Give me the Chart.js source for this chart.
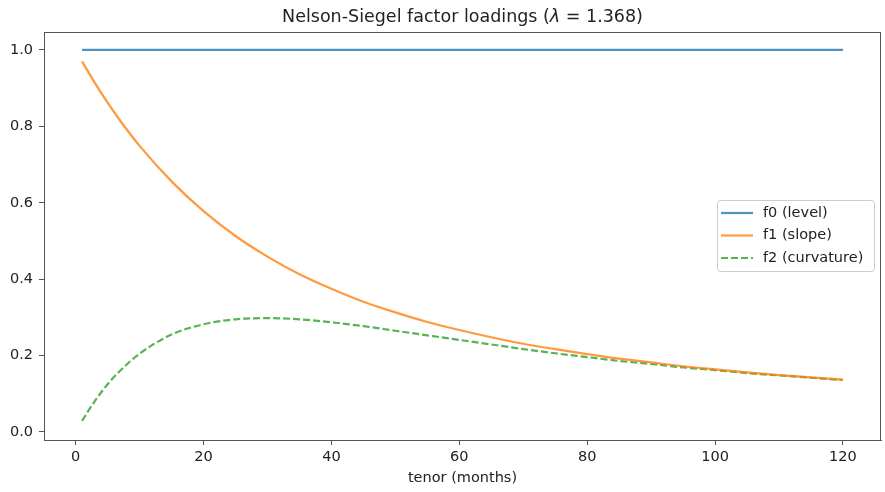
<!DOCTYPE html>
<html>
<head>
<meta charset="utf-8">
<script src="https://cdn.jsdelivr.net/npm/chart.js@4.4.0/dist/chart.umd.min.js"></script>
<style>
  html, body { margin: 0; padding: 0; background: #fff; }
  #wrap { width: 885px; height: 492px; }
</style>
</head>
<body>
<div id="wrap"><canvas id="chart" width="885" height="492"></canvas></div>
<script>
// tenors (months) and loadings
const tenors = [1, 3, 5, 7, 10, 15, 20, 25, 30, 35, 40, 45, 50, 55, 60, 65, 70, 75, 80, 85, 90, 95, 100, 105, 110, 115, 120]
const level = [1, 1, 1, 1, 1, 1, 1, 1, 1, 1, 1, 1, 1, 1, 1, 1, 1, 1, 1, 1, 1, 1, 1, 1, 1, 1, 1]
const slope = [0.970, 0.914, 0.862, 0.814, 0.749, 0.656, 0.578, 0.513, 0.459, 0.413, 0.375, 0.341, 0.313, 0.288, 0.267, 0.248, 0.231, 0.217, 0.204, 0.192, 0.182, 0.172, 0.164, 0.156, 0.149, 0.143, 0.137]
const curvature = [0.029, 0.081, 0.125, 0.161, 0.205, 0.255, 0.282, 0.295, 0.298, 0.295, 0.287, 0.277, 0.265, 0.253, 0.241, 0.229, 0.217, 0.206, 0.196, 0.186, 0.178, 0.169, 0.162, 0.154, 0.148, 0.142, 0.136]
const xTicks = [0, 20, 40, 60, 80, 100, 120]
const yTicks = [0.0, 0.2, 0.4, 0.6, 0.8, 1.0]

const FONT = 'DejaVu Sans'
const TEXT = '#222'
const SPINE = '#555'
const toPts = (ys) => tenors.map((t, i) => ({ x: t, y: ys[i] }))

// title with italic lambda, like matplotlib mathtext
const titlePlugin = {
  id: 'mplTitle',
  afterDraw (chart) {
    const ctx = chart.ctx
    const area = chart.chartArea
    const parts = [
      { t: 'Nelson-Siegel factor loadings (', f: `17.5px "${FONT}"` },
      { t: 'λ', f: `italic 17.5px "${FONT}"` },
      { t: ' = 1.368)', f: `17.5px "${FONT}"` }
    ]
    ctx.save()
    let total = 0
    parts.forEach(p => { ctx.font = p.f; p.w = ctx.measureText(p.t).width; total += p.w })
    let x = (area.left + area.right) / 2 - total / 2
    ctx.fillStyle = TEXT
    ctx.textBaseline = 'alphabetic'
    parts.forEach(p => { ctx.font = p.f; ctx.fillText(p.t, x, 22); x += p.w })
    ctx.restore()
  }
}

// frame on all four sides
const framePlugin = {
  id: 'frame',
  afterDraw (chart) {
    const { ctx, chartArea: a } = chart
    ctx.save()
    ctx.strokeStyle = SPINE
    ctx.lineWidth = 1
    ctx.strokeRect(a.left + 0.5, a.top + 0.5, a.right - a.left - 1, a.bottom - a.top)
    ctx.restore()
  }
}

// legend box inside the axes, right middle
const legendPlugin = {
  id: 'mplLegend',
  afterDraw (chart) {
    const ctx = chart.ctx
    const x0 = 717; const y0 = 200; const w = 157; const h = 71
    ctx.save()
    ctx.fillStyle = 'rgba(255,255,255,0.8)'
    ctx.strokeStyle = '#cccccc'
    ctx.lineWidth = 1
    ctx.beginPath()
    ctx.roundRect(x0 + 0.5, y0 + 0.5, w, h, 3)
    ctx.fill()
    ctx.stroke()
    ctx.font = `14.5px "${FONT}"`
    ctx.textBaseline = 'middle'
    chart.data.datasets.forEach((ds, i) => {
      const y = y0 + 13 + i * 22.5
      ctx.strokeStyle = ds.borderColor
      ctx.lineWidth = ds.borderWidth
      ctx.setLineDash(ds.borderDash || [])
      ctx.beginPath()
      ctx.moveTo(x0 + 4, y)
      ctx.lineTo(x0 + 36, y)
      ctx.stroke()
      ctx.setLineDash([])
      ctx.fillStyle = TEXT
      ctx.fillText(ds.label, x0 + 46, y)
    })
    ctx.restore()
  }
}

new Chart(document.getElementById('chart'), {
  type: 'line',
  data: {
    datasets: [
      { label: 'f0 (level)', data: toPts(level), borderColor: 'rgba(31,119,180,0.8)', borderWidth: 2.2, pointRadius: 0, fill: false },
      { label: 'f1 (slope)', data: toPts(slope), borderColor: 'rgba(255,127,14,0.8)', borderWidth: 2.2, pointRadius: 0, fill: false, cubicInterpolationMode: 'monotone' },
      { label: 'f2 (curvature)', data: toPts(curvature), borderColor: 'rgba(44,160,44,0.8)', borderWidth: 2.2, borderDash: [7, 3], pointRadius: 0, fill: false, cubicInterpolationMode: 'monotone' }
    ]
  },
  options: {
    responsive: false,
    animation: false,
    layout: { padding: { top: 32, right: 4, left: 0, bottom: 0 } },
    plugins: {
      legend: { display: false },
      tooltip: { enabled: false },
      title: { display: false }
    },
    scales: {
      x: {
        type: 'linear',
        min: -4.95,
        max: 125.95,
        afterFit: (s) => { s.height = 52 },
        afterBuildTicks: (s) => { s.ticks = xTicks.map(v => ({ value: v })) },
        ticks: { font: { family: FONT, size: 14.5 }, color: TEXT, padding: 4, maxRotation: 0, callback: v => String(v) },
        grid: { drawOnChartArea: false, drawTicks: true, tickLength: 5, color: SPINE },
        border: { display: true, color: SPINE },
        title: { display: true, text: 'tenor (months)', font: { family: FONT, size: 14.5 }, color: TEXT, padding: { top: 0, bottom: 5 } }
      },
      y: {
        type: 'linear',
        min: -0.021,
        max: 1.047,
        afterFit: (s) => { s.width = 44 },
        afterBuildTicks: (s) => { s.ticks = yTicks.map(v => ({ value: v })) },
        ticks: { font: { family: FONT, size: 14.5 }, color: TEXT, padding: 6, callback: v => v.toFixed(1) },
        grid: { drawOnChartArea: false, drawTicks: true, tickLength: 5, color: SPINE },
        border: { display: true, color: SPINE }
      }
    }
  },
  plugins: [titlePlugin, framePlugin, legendPlugin]
})
</script>
</body>
</html>
